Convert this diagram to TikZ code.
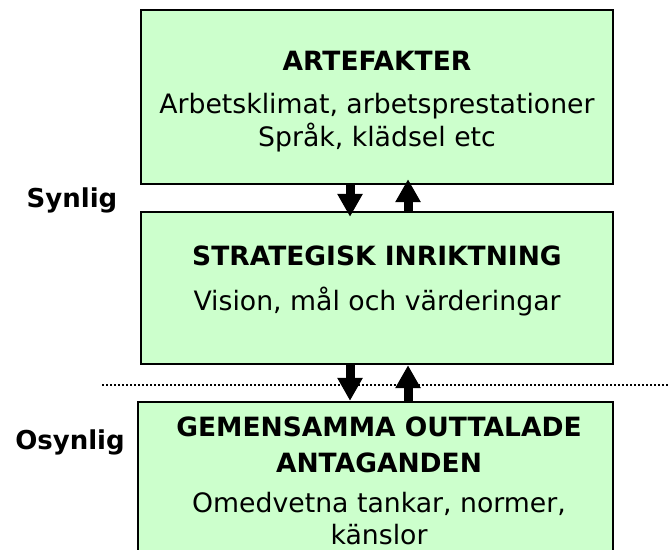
\documentclass[tikz,border=0pt]{standalone}
\usepackage{fontspec}
\setmainfont{DejaVu Sans}
\usetikzlibrary{arrows.meta}
\definecolor{lightgreen}{HTML}{CCFFCC}

\begin{document}
\begin{tikzpicture}[x=1pt,y=-1pt,
    box/.style={draw=black, line width=2.4pt, fill=lightgreen, inner sep=0pt},
    head/.style={font=\fontsize{26.5}{30}\selectfont\bfseries, anchor=base},
    body/.style={font=\fontsize{26.7}{30}\selectfont, anchor=base},
    side/.style={font=\fontsize{26}{30}\selectfont\bfseries, anchor=base},
    flow/.style={line width=9pt, -{Triangle[width=24pt,length=23pt]}},
    divider/.style={line width=2pt, dash pattern=on 2pt off 2pt}]
    \useasboundingbox (0,0) rectangle (668,549);
    \clip (0,0) rectangle (668,549);
    % the three levels
    \node[box, minimum width=472, minimum height=174] (artefakter) at (377,97) {};
    \node[box, minimum width=472, minimum height=152] (strategi) at (377,288) {};
    \node[box, minimum width=475, minimum height=198] (antaganden) at (375.5,501) {};
    % texts
    \node[head] (artTitle) at (377,70) {ARTEFAKTER};
    \node[body] (artLineA) at (377,113) {Arbetsklimat, arbetsprestationer};
    \node[body] (artLineB) at (377,146) {Språk, klädsel etc};
    \node[head] (strTitle) at (377,265) {STRATEGISK INRIKTNING};
    \node[body] (strLine) at (377,310) {Vision, mål och värderingar};
    \node[head] (antTitleA) at (379,436) {GEMENSAMMA OUTTALADE};
    \node[head] (antTitleB) at (379,472) {ANTAGANDEN};
    \node[body] (antLineA) at (379,512) {Omedvetna tankar, normer,};
    \node[body] (antLineB) at (379,544) {känslor};
    % visible / invisible
    \draw[divider] (102,385) -- (668,385);
    \node[side] (synlig) at (72,207) {Synlig};
    \node[side] (osynlig) at (70,449) {Osynlig};
    % arrows between levels
    \draw[flow, shorten >=-6pt] ([xshift=-27pt]artefakter.south) -- ([xshift=-27pt]strategi.north);
    \draw[flow, shorten >=-6pt] ([xshift=31pt]strategi.north) -- ([xshift=31pt]artefakter.south);
    \draw[flow] ([xshift=-27pt]strategi.south) -- ([xshift=-27pt]strategi.south |- antaganden.north);
    \draw[flow] ([xshift=31pt]strategi.south |- antaganden.north) -- ([xshift=31pt]strategi.south);
\end{tikzpicture}
\end{document}
